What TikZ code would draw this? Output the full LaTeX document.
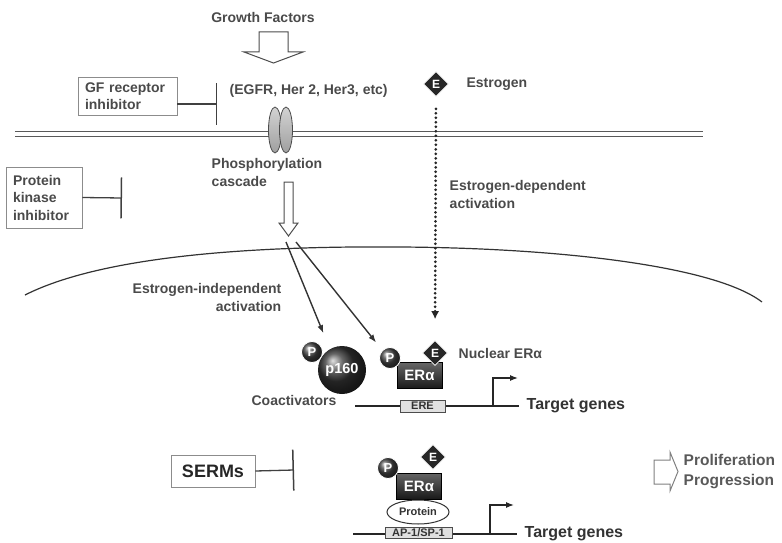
\documentclass[tikz,border=0pt]{standalone}
\usepackage{fontspec}
\setmainfont{Liberation Sans}
\usetikzlibrary{shapes.geometric, arrows.meta, positioning, calc}

\definecolor{txtgray}{HTML}{4A4A4A}
\definecolor{boxgray}{HTML}{8C8C8C}

\begin{document}
\begin{tikzpicture}[x=1pt, y=-1pt, thick, >={Latex[length=8pt,width=6pt]}, font=\fontsize{14}{17.5}\selectfont\bfseries, text=txtgray]
        \tikzstyle{inhibbox} = [draw=boxgray, line width=0.8pt, rectangle, align=left, inner xsep=7pt, inner ysep=3pt]
        \tikzstyle{inhib} = [line width=1.3pt, draw=black!75, -{Bar[width=41pt, line width=1.5pt]}]
        \tikzstyle{pcirc} = [circle, ball color=black!75, draw=white, line width=0.8pt, text=white, inner sep=0pt, minimum size=21pt, font=\fontsize{13}{13}\selectfont\bfseries]
        \tikzstyle{ediam} = [diamond, fill=black!85, draw=white, line width=0.6pt, text=white, inner sep=0pt, minimum size=25pt, font=\fontsize{12}{12}\selectfont\bfseries]
        \tikzstyle{erbox} = [rectangle, draw=black, top color=black!60, bottom color=black!90, text=white, minimum width=45pt, minimum height=26pt, inner sep=0pt, font=\fontsize{15}{15}\selectfont\bfseries]
        \tikzstyle{sitebox} = [rectangle, draw=black!70, fill=black!12, line width=0.8pt, text=black!80, minimum height=12pt, inner sep=1pt, font=\fontsize{11}{11}\selectfont\bfseries]
        \tikzstyle{dna} = [line width=1.6pt, draw=black!85]
        \tikzstyle{blockarrow} = [draw=black!70, line width=1pt, fill=white]
        \tikzstyle{receptor} = [ellipse, draw=black!70, top color=gray!35, bottom color=gray!75, minimum width=13pt, minimum height=46pt, inner sep=0pt]

        \useasboundingbox (0,0) rectangle (782,543);

        % Growth factors
        \node (gf) at (263,17) {Growth Factors};
        \draw [blockarrow] (259,32) -- (288,32) -- (288,52) -- (303,52) -- (273.5,63) -- (244,52) -- (259,52) -- cycle;
        \node [anchor=west] (egfr) at (226,91) {(EGFR, Her 2, Her3, etc)};

        % Membrane and receptor
        \draw [line width=0.8pt, black!65] (15,131) -- (703,131);
        \draw [line width=0.8pt, black!65] (15,136) -- (703,136);
        \node [receptor] (recA) at (275,130) {};
        \node [receptor] (recB) at (286,130) {};

        % GF receptor inhibitor
        \node [inhibbox, text width=85pt, minimum height=38pt] (gfinh) at (127.5,96) {GF receptor\\inhibitor};
        \coordinate (gfbar) at (217,104);
        \draw [inhib] (gfinh.east |- gfbar) -- (gfbar);

        % Phosphorylation cascade
        \node [anchor=north west, align=left] (phos) at (208,155) {Phosphorylation\\cascade};
        \draw [blockarrow] (284,182) -- (293,182) -- (293,223) -- (298,223) -- (288.5,236) -- (279,223) -- (284,223) -- cycle;
        \coordinate (cascL) at (286,242);
        \coordinate (cascR) at (296,242);

        % Protein kinase inhibitor
        \node [inhibbox, text width=62pt, minimum height=61pt] (pkinh) at (44,197.5) {Protein\\kinase\\inhibitor};
        \coordinate (pkbar) at (122,198);
        \draw [inhib] (pkinh.east) -- (pkbar);

        % Nucleus
        \draw [line width=1.2pt, black!80] (25,295) .. controls (110,252) and (280,246) .. (400,247) .. controls (560,248) and (715,266) .. (762,302);

        % Estrogen
        \node [ediam] (elig) at (436,84) {E};
        \node [right=14pt of elig] (estr) {Estrogen};
        \node [anchor=north west, align=left] (edep) at (446,177) {Estrogen-dependent\\activation};
        \node [anchor=north east, align=right] (eindep) at (285,280) {Estrogen-independent\\activation};

        % Coactivator and nuclear ER
        \node [circle, ball color=black!80, minimum size=48pt, inner sep=0pt, text=white, font=\fontsize{14.5}{14.5}\selectfont\bfseries] (p160) at (342,370) {p160};
        \node [pcirc] (p160p) at (312,352) {P};
        \node (coact) at (294,400) {Coactivators};
        \node [erbox] (er1) at (419.5,375.5) {ERα};
        \node [pcirc] (er1p) at (390,358) {P};
        \node [ediam] (er1e) at (435,353) {E};
        \node [anchor=west] (nucer) at (455,353) {Nuclear ERα};

        \draw [->, line width=1.4pt, black!80, shorten >=17pt] (cascL) -- (p160.120);
        \draw [->, line width=1.4pt, black!80, shorten >=10pt] (cascR) -- (er1p.north west);
        \draw [black!85, line width=3pt, line cap=round, dash pattern=on 0pt off 4.5pt, -{Latex[length=8pt,width=8pt]}, shorten <=12pt, shorten >=21pt] (elig.south) -- (er1e.north);

        % ERE target genes
        \coordinate (dna1L) at (355,406);
        \coordinate (dna1R) at (519,406);
        \draw [dna] (dna1L) -- (dna1R);
        \node [sitebox, minimum width=45pt] (ere) at (422.5,406) {ERE};
        \coordinate (prom1) at (493,406);
        \draw [->, line width=1.2pt, black!85] (prom1) -- ++(0,-28) -- ++(25,0);
        \node [right=4pt of dna1R, font=\fontsize{16}{16}\selectfont\bfseries, text=black!80] (tg1) {Target genes};

        % SERMs
        \node [draw=boxgray, line width=0.8pt, minimum width=84pt, minimum height=32pt, font=\fontsize{18}{18}\selectfont\bfseries, text=black!85] (serms) at (213,471) {SERMs};
        \coordinate (sermbar) at (294,470);
        \draw [inhib] (serms.east) -- (sermbar);

        % Tethered ER complex
        \node [erbox] (er2) at (419,486) {ERα};
        \node [pcirc] (er2p) at (388,468) {P};
        \node [ediam] (er2e) at (433,457) {E};
        \node [ellipse, draw=black!80, fill=white, line width=1pt, minimum width=62pt, minimum height=24pt, inner sep=0pt, text=black!80, font=\fontsize{11}{11}\selectfont\bfseries] (prot) at (418,512) {Protein};
        \coordinate (dna2L) at (353,534);
        \coordinate (dna2R) at (517,534);
        \draw [dna] (dna2L) -- (dna2R);
        \node [sitebox, minimum width=67pt, minimum height=11pt] (ap1) at (418.5,533) {AP-1/SP-1};
        \coordinate (prom2) at (490,534);
        \draw [->, line width=1.2pt, black!85] (prom2) -- ++(0,-29) -- ++(24,0);
        \node [right=4pt of dna2R, font=\fontsize{16}{16}\selectfont\bfseries, text=black!80] (tg2) {Target genes};

        % Outcome
        \draw [draw=black!50, line width=1pt, fill=white] (654,460) -- (670,460) -- (670,452) -- (678,471.5) -- (670,491) -- (670,484) -- (654,484) -- cycle;
        \node [anchor=north west, align=left, text=black!65, font=\fontsize{15.5}{19.5}\selectfont\bfseries] (prolif) at (680,451) {Proliferation\\Progression};

    \end{tikzpicture}
\end{document}
